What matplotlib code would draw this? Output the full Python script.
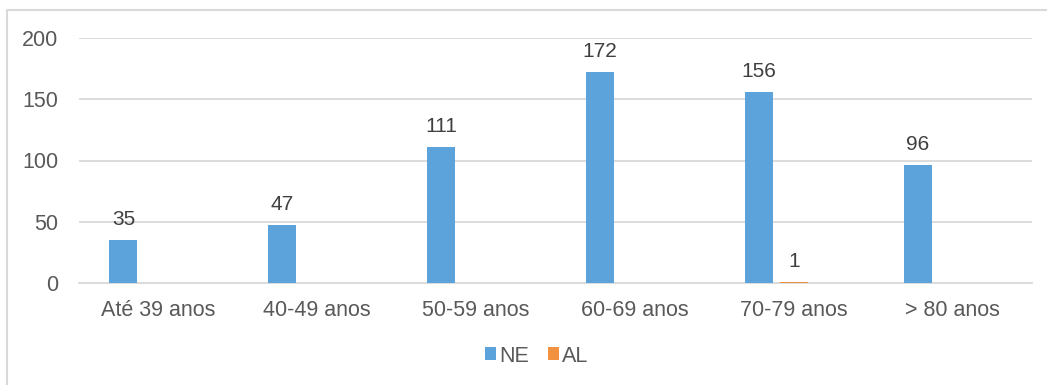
import matplotlib
matplotlib.use("Agg")
import matplotlib.pyplot as plt
from matplotlib.lines import Line2D
from matplotlib.patches import Patch
import numpy as np

categories = ["Até 39 anos", "40-49 anos", "50-59 anos", "60-69 anos", "70-79 anos", "> 80 anos"]
ne_values = [35, 47, 111, 172, 156, 96]
al_values = [0, 0, 0, 0, 1, 0]
y_ticks = [0, 50, 100, 150, 200]

NE_COLOR = "#5DA3DB"
AL_COLOR = "#F29240"
GRID_COLOR = "#D9D9D9"
TICK_COLOR = "#595959"
LABEL_COLOR = "#404040"

plt.rcParams["font.family"] = ["Liberation Sans", "DejaVu Sans"]

fig = plt.figure(figsize=(10.47, 3.85), dpi=100)
ax = fig.add_axes([79 / 1047, 1 - 283 / 385, (1032 - 79) / 1047, (283 - 38) / 385])

x = np.arange(len(categories))
slot = 0.22
width = 0.176

ax.bar(x - slot, ne_values, width, color=NE_COLOR, zorder=3)
ax.bar(x, al_values, width, color=AL_COLOR, zorder=3)

for xi, v in zip(x, ne_values):
    ax.annotate(f"{v}", (xi - slot, v), xytext=(0, 8), textcoords="offset points",
                ha="center", va="bottom", fontsize=15, color=LABEL_COLOR)
for xi, v in zip(x, al_values):
    if v:
        ax.annotate(f"{v}", (xi, v), xytext=(0, 8), textcoords="offset points",
                    ha="center", va="bottom", fontsize=15, color=LABEL_COLOR)

ax.set_xlim(-0.5, len(categories) - 0.5)
ax.set_ylim(0, 200)
ax.set_yticks(y_ticks)
ax.set_xticks(x)
ax.set_xticklabels(categories)
ax.tick_params(axis="both", length=0, labelsize=15.5, colors=TICK_COLOR)
ax.tick_params(axis="y", pad=15)
ax.tick_params(axis="x", pad=12)
ax.yaxis.grid(True, color=GRID_COLOR, linewidth=1.3, zorder=0)
ax.set_axisbelow(True)
for side in ["top", "right", "left"]:
    ax.spines[side].set_visible(False)
ax.spines["bottom"].set_color(GRID_COLOR)
ax.spines["bottom"].set_linewidth(1.3)

handles = [Patch(facecolor=NE_COLOR, label="NE"), Patch(facecolor=AL_COLOR, label="AL")]
fig.legend(handles=handles, loc="center", bbox_to_anchor=(537 / 1047, 1 - 356 / 385),
           ncol=2, frameon=False, fontsize=15.5, handlelength=0.5, handleheight=0.55,
           handletextpad=0.15, columnspacing=0.9, labelcolor=TICK_COLOR)

# outer frame (left and top edges)
fig.add_artist(Line2D([7 / 1047, 7 / 1047, 1.0], [0.0, 1 - 10 / 385, 1 - 10 / 385],
                      transform=fig.transFigure, color=GRID_COLOR, linewidth=1.5))

fig.savefig("out.png", dpi=100, facecolor="white")
